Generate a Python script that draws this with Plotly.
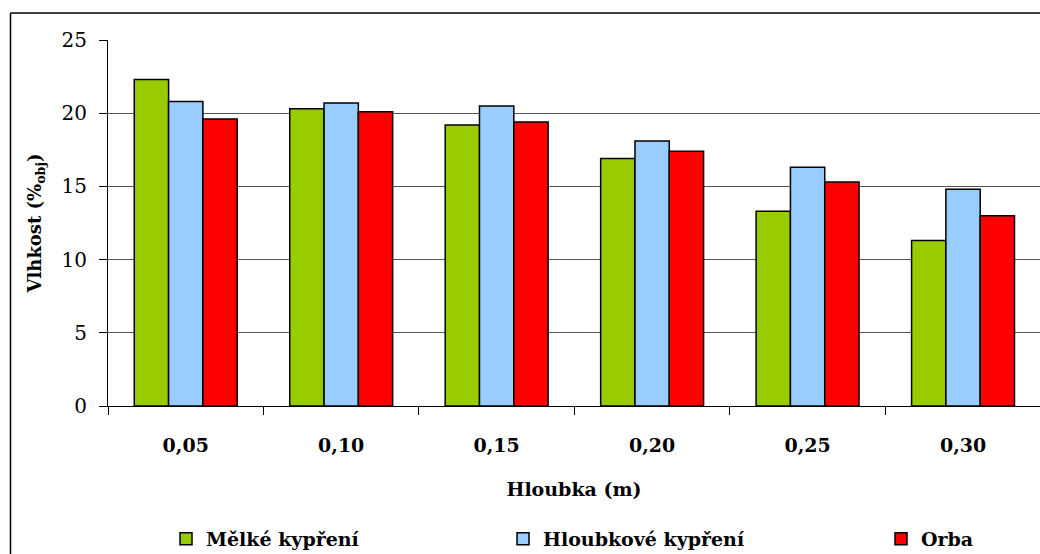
import plotly.graph_objects as go

# Soil moisture by depth for three tillage variants
depths = ["0,05", "0,10", "0,15", "0,20", "0,25", "0,30"]
melke = [22.3, 20.3, 19.2, 16.9, 13.3, 11.3]
hloubkove = [20.8, 20.7, 20.5, 18.1, 16.3, 14.8]
orba = [19.6, 20.1, 19.4, 17.4, 15.3, 13.0]

series_names = ["Mělké kypření", "Hloubkové kypření", "Orba"]
series_values = [melke, hloubkove, orba]
series_colors = ["#99CC00", "#99CCFF", "#FF0000"]
legend_ids = ["legend", "legend2", "legend3"]

serif = "DejaVu Serif"

# pixel geometry of the plotting area
W, H = 1040, 554
ml, mt, mb = 108, 40, 148
pw = W - ml
ph = H - mt - mb


def px_x(px):
    return (px - ml) / pw


def px_y(py):
    return (H - mb - py) / ph


fig = go.Figure()
for name, vals, col, lg in zip(series_names, series_values, series_colors, legend_ids):
    fig.add_trace(go.Bar(
        x=depths, y=vals, name=name, legend=lg,
        marker=dict(color=col, line=dict(color="black", width=1.5)),
    ))

legend_font = dict(family=serif, size=19, color="black", weight="bold")
legend_x = [166, 503, 881]


def legend_at(px):
    return dict(
        orientation="h", x=px_x(px), xanchor="left",
        y=px_y(539), yanchor="middle",
        font=legend_font, bgcolor="rgba(0,0,0,0)",
    )


fig.update_layout(
    width=W, height=H,
    margin=dict(l=ml, r=0, t=mt, b=mb, pad=0, autoexpand=False),
    paper_bgcolor="white", plot_bgcolor="white",
    barmode="group", bargap=0.338, bargroupgap=0,
    font=dict(family=serif, color="black", size=19),
    showlegend=True,
    legend=legend_at(legend_x[0]),
    legend2=legend_at(legend_x[1]),
    legend3=legend_at(legend_x[2]),
    shapes=[
        # outer chart frame (left and top edges)
        dict(type="line", xref="paper", yref="paper",
             x0=px_x(10.5), x1=px_x(10.5), y0=px_y(13), y1=px_y(600),
             line=dict(color="black", width=1.5), layer="below"),
        dict(type="line", xref="paper", yref="paper",
             x0=px_x(10.5), x1=px_x(1100), y0=px_y(13), y1=px_y(13),
             line=dict(color="black", width=1.5), layer="below"),
    ],
)

fig.update_xaxes(
    type="category", range=[-0.5, 5.495],
    showline=True, linecolor="black", linewidth=1,
    ticks="outside", ticklen=8, tickcolor="black", tickson="boundaries",
    ticklabelstandoff=22,
    tickfont=dict(family=serif, size=19, color="black", weight="bold"),
    showgrid=False,
    title=dict(text="Hloubka (m)", standoff=27,
               font=dict(family=serif, size=19, color="black", weight="bold")),
)

fig.update_yaxes(
    range=[0, 25], dtick=5,
    showline=True, linecolor="black", linewidth=1,
    ticks="outside", ticklen=8, tickcolor="black",
    ticklabelstandoff=8,
    tickfont=dict(family=serif, size=20, color="black"),
    showgrid=True, gridcolor="#555555", gridwidth=1,
    zeroline=False,
    title=dict(text="Vlhkost (%<sub>obj</sub>)", standoff=15,
               font=dict(family=serif, size=18, color="black", weight="bold")),
)

fig.write_html("out.html")
